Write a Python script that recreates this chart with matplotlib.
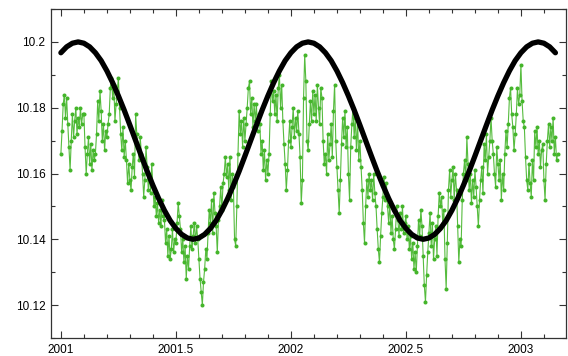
import numpy as np
import matplotlib
matplotlib.use('Agg')
import matplotlib.pyplot as plt
from matplotlib.ticker import MultipleLocator

plt.rcParams['font.family'] = ['Liberation Sans', 'DejaVu Sans']

# measured series, one value every 0.005 yr starting at 2001.0
t0_meas = 2001.0
dt_meas = 0.005
meas = [
    10.166, 10.173, 10.181, 10.184, 10.177, 10.183, 10.175, 10.168, 10.161, 10.170,
    10.178, 10.171, 10.176, 10.180, 10.172, 10.177, 10.174, 10.180, 10.175, 10.178,
    10.178, 10.168, 10.160, 10.166, 10.171, 10.163, 10.169, 10.161, 10.167, 10.164,
    10.166, 10.172, 10.182, 10.176, 10.185, 10.179, 10.170, 10.175, 10.167, 10.173,
    10.171, 10.175, 10.178, 10.186, 10.189, 10.183, 10.187, 10.176, 10.181, 10.185,
    10.189, 10.180, 10.172, 10.167, 10.174, 10.165, 10.170, 10.164, 10.157, 10.163,
    10.158, 10.155, 10.162, 10.166, 10.159, 10.178, 10.172, 10.168, 10.164, 10.171,
    10.166, 10.160, 10.153, 10.158, 10.168, 10.162, 10.155, 10.160, 10.154, 10.163,
    10.156, 10.150, 10.153, 10.147, 10.151, 10.145, 10.149, 10.144, 10.152, 10.147,
    10.146, 10.139, 10.143, 10.135, 10.141, 10.134, 10.137, 10.143, 10.136, 10.140,
    10.139, 10.145, 10.151, 10.147, 10.143, 10.136, 10.140, 10.133, 10.138, 10.128,
    10.135, 10.131, 10.138, 10.144, 10.137, 10.141, 10.145, 10.139, 10.144, 10.140,
    10.134, 10.128, 10.124, 10.120, 10.127, 10.131, 10.137, 10.134, 10.142, 10.149,
    10.145, 10.152, 10.142, 10.154, 10.148, 10.144, 10.136, 10.146, 10.150, 10.156,
    10.149, 10.157, 10.160, 10.165, 10.159, 10.163, 10.155, 10.165, 10.152, 10.160,
    10.156, 10.140, 10.138, 10.150, 10.166, 10.179, 10.172, 10.176, 10.168, 10.177,
    10.170, 10.175, 10.180, 10.186, 10.188, 10.178, 10.183, 10.174, 10.181, 10.176,
    10.181, 10.173, 10.178, 10.175, 10.166, 10.170, 10.161, 10.167, 10.158, 10.164,
    10.160, 10.166, 10.178, 10.188, 10.182, 10.185, 10.178, 10.184, 10.176, 10.186,
    10.190, 10.180, 10.187, 10.176, 10.169, 10.163, 10.155, 10.161, 10.170, 10.176,
    10.168, 10.174, 10.180, 10.171, 10.177, 10.173, 10.179, 10.172, 10.165, 10.151,
    10.158, 10.183, 10.196, 10.188, 10.170, 10.167, 10.175, 10.182, 10.176, 10.185,
    10.178, 10.184, 10.176, 10.187, 10.180, 10.175, 10.186, 10.183, 10.170, 10.163,
    10.166, 10.160, 10.172, 10.164, 10.169, 10.175, 10.165, 10.179, 10.187, 10.170,
    10.162, 10.155, 10.148, 10.158, 10.169, 10.177, 10.171, 10.179, 10.168, 10.174,
    10.160, 10.152, 10.168, 10.175, 10.180, 10.171, 10.177, 10.167, 10.176, 10.164,
    10.170, 10.162, 10.155, 10.145, 10.139, 10.150, 10.158, 10.153, 10.160, 10.155,
    10.158, 10.152, 10.160, 10.154, 10.150, 10.143, 10.137, 10.133, 10.141, 10.148,
    10.153, 10.159, 10.152, 10.157, 10.150, 10.145, 10.151, 10.142, 10.147, 10.140,
    10.137, 10.143, 10.150, 10.146, 10.141, 10.148, 10.143, 10.150, 10.142, 10.145,
    10.147, 10.140, 10.144, 10.137, 10.141, 10.134, 10.139, 10.131, 10.136, 10.130,
    10.138, 10.146, 10.141, 10.149, 10.144, 10.135, 10.126, 10.121, 10.129, 10.136,
    10.142, 10.148, 10.138, 10.145, 10.134, 10.140, 10.144, 10.135, 10.147, 10.154,
    10.150, 10.153, 10.145, 10.149, 10.134, 10.125, 10.139, 10.155, 10.161, 10.153,
    10.158, 10.162, 10.152, 10.160, 10.155, 10.144, 10.133, 10.140, 10.138, 10.152,
    10.160, 10.164, 10.158, 10.171, 10.163, 10.155, 10.160, 10.151, 10.158, 10.153,
    10.161, 10.156, 10.150, 10.144, 10.152, 10.158, 10.162, 10.154, 10.169, 10.164,
    10.172, 10.160, 10.165, 10.170, 10.177, 10.170, 10.166, 10.160, 10.156, 10.168,
    10.163, 10.158, 10.164, 10.152, 10.160, 10.155, 10.166, 10.173, 10.168, 10.175,
    10.183, 10.186, 10.178, 10.174, 10.167, 10.172, 10.178, 10.186, 10.181, 10.184,
    10.193, 10.182, 10.176, 10.174, 10.165, 10.158, 10.155, 10.163, 10.157, 10.153,
    10.164, 10.158, 10.173, 10.168, 10.174, 10.166, 10.170, 10.162, 10.167, 10.169,
    10.158, 10.152, 10.163, 10.170, 10.175, 10.168, 10.174, 10.170, 10.177, 10.166,
    10.171, 10.164, 10.166,
]

# fitted annual curve, one value every 0.025 yr starting at 2001.0
t0_fit = 2001.0
dt_fit = 0.025
fit = [
    10.1967, 10.1985, 10.1996, 10.2000, 10.1996, 10.1985, 10.1967, 10.1943, 10.1912, 10.1876,
    10.1836, 10.1793, 10.1747, 10.1700, 10.1653, 10.1607, 10.1564, 10.1524, 10.1488, 10.1457,
    10.1433, 10.1415, 10.1404, 10.1400, 10.1404, 10.1415, 10.1433, 10.1457, 10.1488, 10.1524,
    10.1564, 10.1607, 10.1653, 10.1700, 10.1747, 10.1793, 10.1836, 10.1876, 10.1912, 10.1943,
    10.1967, 10.1985, 10.1996, 10.2000, 10.1996, 10.1985, 10.1967, 10.1943, 10.1912, 10.1876,
    10.1836, 10.1793, 10.1747, 10.1700, 10.1653, 10.1607, 10.1564, 10.1524, 10.1488, 10.1457,
    10.1433, 10.1415, 10.1404, 10.1400, 10.1404, 10.1415, 10.1433, 10.1457, 10.1488, 10.1524,
    10.1564, 10.1607, 10.1653, 10.1700, 10.1747, 10.1793, 10.1836, 10.1876, 10.1912, 10.1943,
    10.1967, 10.1985, 10.1996, 10.2000, 10.1996, 10.1985, 10.1967,
]

x_ticks = [2001, 2001.5, 2002, 2002.5, 2003]
x_labels = ['2001', '2001.5', '2002', '2002.5', '2003']
y_ticks = [10.12, 10.14, 10.16, 10.18, 10.2]
y_labels = ['10.12', '10.14', '10.16', '10.18', '10.2']

t_meas = t0_meas + dt_meas * np.arange(len(meas))
t_fit = t0_fit + dt_fit * np.arange(len(fit))

fig = plt.figure(figsize=(5.68, 3.56), dpi=100)
ax = fig.add_axes([51 / 568, 18 / 356, 515 / 568, 329 / 356])

verde = '#44b52a'
ax.plot(t_meas, meas, color=verde, lw=0.8, alpha=0.9, zorder=2)
ax.plot(t_meas, meas, 'o', color=verde, ms=2.9, mew=0, zorder=3)
ax.plot(t_fit, fit, color='black', lw=3.8, solid_capstyle='round',
        solid_joinstyle='round', zorder=4)

ax.set_xlim(2000.957, 2003.196)
ax.set_ylim(10.11, 10.21)
ax.set_xticks(x_ticks)
ax.set_xticklabels(x_labels)
ax.set_yticks(y_ticks)
ax.set_yticklabels(y_labels)
ax.xaxis.set_minor_locator(MultipleLocator(0.1))
ax.yaxis.set_minor_locator(MultipleLocator(0.01))
ax.tick_params(which='both', direction='in', top=True, right=True,
               color='#333333', width=0.8, labelsize=8.5, pad=4)
ax.tick_params(which='major', length=5)
ax.tick_params(which='minor', length=3)
for s in ax.spines.values():
    s.set_linewidth(0.9)
    s.set_color('#333333')

fig.savefig('out.png', dpi=100)
